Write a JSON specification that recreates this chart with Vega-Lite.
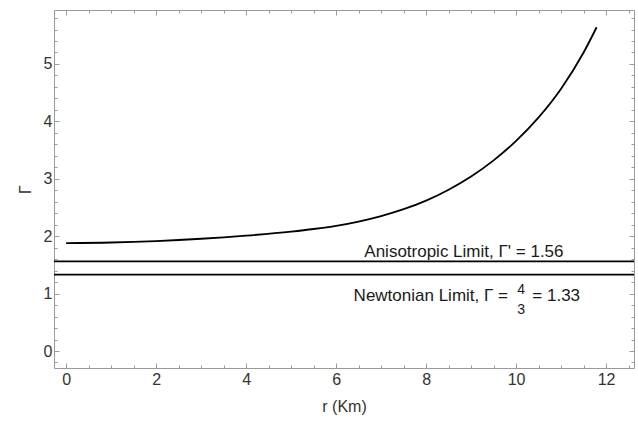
{
  "$schema": "https://vega.github.io/schema/vega-lite/v6.json",
  "autosize": "none",
  "width": 580,
  "height": 358,
  "padding": {"left": 54, "top": 10, "right": 4, "bottom": 60},
  "background": "white",
  "config": {
    "view": {"stroke": "#9a9a9a", "strokeWidth": 1},
    "font": "Liberation Sans",
    "axis": {
      "domain": false,
      "grid": false,
      "tickColor": "#9a9a9a",
      "tickWidth": 1,
      "labelColor": "#333333",
      "labelFont": "Liberation Sans",
      "labelFontSize": 16,
      "titleFont": "Liberation Sans",
      "titleFontSize": 16,
      "titleFontWeight": "normal",
      "titleColor": "#333333"
    }
  },
  "resolve": {"axis": {"x": "independent", "y": "independent"}},
  "layer": [
    {
      "data": {"values": [
        {"r": 0, "G": 1.88}, {"r": 1, "G": 1.89}, {"r": 2, "G": 1.915}, {"r": 3, "G": 1.955},
        {"r": 4, "G": 2.01}, {"r": 5, "G": 2.08}, {"r": 5.5, "G": 2.125}, {"r": 6, "G": 2.18}, {"r": 6.5, "G": 2.255},
        {"r": 7, "G": 2.35}, {"r": 7.5, "G": 2.47}, {"r": 8, "G": 2.62}, {"r": 8.5, "G": 2.81},
        {"r": 9, "G": 3.04}, {"r": 9.5, "G": 3.32}, {"r": 10, "G": 3.66}, {"r": 10.5, "G": 4.07},
        {"r": 11, "G": 4.57}, {"r": 11.5, "G": 5.2}, {"r": 11.79, "G": 5.64}
      ]},
      "mark": {"type": "line", "color": "black", "strokeWidth": 1.8, "interpolate": "monotone"},
      "encoding": {
        "x": {"field": "r", "type": "quantitative", "scale": {"domain": [-0.27, 12.62], "nice": false, "zero": false},
          "axis": {"orient": "bottom", "values": [0, 2, 4, 6, 8, 10, 12], "tickSize": -5, "labelPadding": 8, "title": "r (Km)", "titlePadding": 11}},
        "y": {"field": "G", "type": "quantitative", "scale": {"domain": [-0.296, 5.94], "nice": false, "zero": false},
          "axis": {"orient": "left", "values": [0, 1, 2, 3, 4, 5], "tickSize": -5, "labelPadding": 7, "title": "Γ", "titlePadding": 10}}
      }
    },
    {
      "data": {"values": [
        {"limit": "Anisotropic", "G": 1.56},
        {"limit": "Newtonian", "G": 1.33}
      ]},
      "mark": {"type": "rule", "color": "black", "strokeWidth": 1.8},
      "encoding": {
        "y": {"field": "G", "type": "quantitative", "scale": {"domain": [-0.296, 5.94], "nice": false, "zero": false},
          "axis": {"orient": "left", "values": [-0.2, 0, 0.2, 0.4, 0.6, 0.8, 1, 1.2, 1.4, 1.6, 1.8, 2, 2.2, 2.4, 2.6, 2.8, 3, 3.2, 3.4, 3.6, 3.8, 4, 4.2, 4.4, 4.6, 4.8, 5, 5.2, 5.4, 5.6, 5.8], "tickSize": -3, "labels": false, "title": null}}
      }
    },
    {
      "data": {"values": [{"x": 9.82, "y": 0.867, "label": "Newtonian Limit, Γ ="}]},
      "mark": {"type": "text", "align": "right", "baseline": "alphabetic", "fontSize": 17, "color": "#1a1a1a", "font": "Liberation Sans"},
      "encoding": {
        "x": {"field": "x", "type": "quantitative", "scale": {"domain": [-0.27, 12.62], "nice": false, "zero": false},
          "axis": {"orient": "bottom", "values": [0, 0.5, 1, 1.5, 2, 2.5, 3, 3.5, 4, 4.5, 5, 5.5, 6, 6.5, 7, 7.5, 8, 8.5, 9, 9.5, 10, 10.5, 11, 11.5, 12, 12.5], "tickSize": -3, "labels": false, "title": null}},
        "y": {"field": "y", "type": "quantitative", "scale": {"domain": [-0.296, 5.94], "nice": false, "zero": false},
          "axis": {"orient": "right", "values": [0, 1, 2, 3, 4, 5], "tickSize": -5, "labels": false, "title": null}},
        "text": {"field": "label"}
      }
    },
    {
      "data": {"values": [{"x": 10.36, "y": 0.867, "label": "= 1.33"}]},
      "mark": {"type": "text", "align": "left", "baseline": "alphabetic", "fontSize": 17, "color": "#1a1a1a", "font": "Liberation Sans"},
      "encoding": {
        "x": {"field": "x", "type": "quantitative", "scale": {"domain": [-0.27, 12.62], "nice": false, "zero": false},
          "axis": {"orient": "top", "values": [0, 2, 4, 6, 8, 10, 12], "tickSize": -5, "labels": false, "title": null}},
        "y": {"field": "y", "type": "quantitative", "scale": {"domain": [-0.296, 5.94], "nice": false, "zero": false},
          "axis": {"orient": "right", "values": [-0.2, 0, 0.2, 0.4, 0.6, 0.8, 1, 1.2, 1.4, 1.6, 1.8, 2, 2.2, 2.4, 2.6, 2.8, 3, 3.2, 3.4, 3.6, 3.8, 4, 4.2, 4.4, 4.6, 4.8, 5, 5.2, 5.4, 5.6, 5.8], "tickSize": -3, "labels": false, "title": null}},
        "text": {"field": "label"}
      }
    },
    {
      "data": {"values": [{"x": 8.84, "y": 1.643, "label": "Anisotropic Limit, Γ' = 1.56"}]},
      "mark": {"type": "text", "align": "center", "baseline": "alphabetic", "fontSize": 17, "color": "#1a1a1a", "font": "Liberation Sans"},
      "encoding": {
        "x": {"field": "x", "type": "quantitative", "scale": {"domain": [-0.27, 12.62], "nice": false, "zero": false},
          "axis": {"orient": "top", "values": [0, 0.5, 1, 1.5, 2, 2.5, 3, 3.5, 4, 4.5, 5, 5.5, 6, 6.5, 7, 7.5, 8, 8.5, 9, 9.5, 10, 10.5, 11, 11.5, 12, 12.5], "tickSize": -3, "labels": false, "title": null}},
        "y": {"field": "y", "type": "quantitative", "scale": {"domain": [-0.296, 5.94], "nice": false, "zero": false}, "axis": null},
        "text": {"field": "label"}
      }
    },
    {
      "data": {"values": [{"x": 10.11, "y": 1.0, "label": "4"}, {"x": 10.11, "y": 0.652, "label": "3"}]},
      "mark": {"type": "text", "align": "center", "baseline": "alphabetic", "fontSize": 14, "color": "#1a1a1a", "font": "Liberation Sans"},
      "encoding": {
        "x": {"field": "x", "type": "quantitative", "scale": {"domain": [-0.27, 12.62], "nice": false, "zero": false}, "axis": null},
        "y": {"field": "y", "type": "quantitative", "scale": {"domain": [-0.296, 5.94], "nice": false, "zero": false}, "axis": null},
        "text": {"field": "label"}
      }
    }
  ]
}
